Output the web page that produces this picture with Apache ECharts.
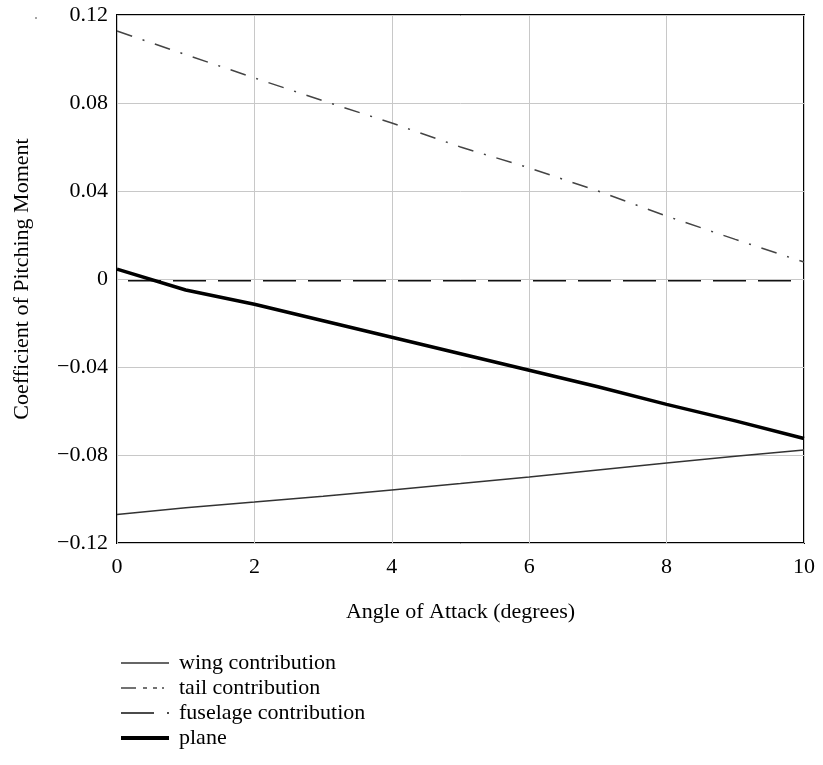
<!DOCTYPE html>
<html>
<head>
<meta charset="utf-8">
<script src="https://cdn.jsdelivr.net/npm/echarts@6/dist/echarts.min.js"></script>
<style>
  html, body { margin: 0; padding: 0; background: #fff; }
  #chart { width: 823px; height: 765px; }
</style>
</head>
<body>
<div id="chart"></div>
<script>
// angle of attack (degrees)
var alpha = [0, 1, 2, 3, 4, 5, 6, 7, 8, 9, 10]
// pitching moment contributions
var wing = [-0.107, -0.104, -0.1014, -0.0987, -0.0959, -0.093, -0.090, -0.0868, -0.0836, -0.0806, -0.0777]
var tail = [0.1127, 0.102, 0.0914, 0.081, 0.0709, 0.060, 0.0505, 0.040, 0.0286, 0.018, 0.0077]
var fuselage = [-0.0008, -0.0008, -0.0008, -0.0008, -0.0008, -0.0008, -0.0008, -0.0008, -0.0008, -0.0008, -0.0008]
var plane = [0.0045, -0.005, -0.0115, -0.019, -0.0265, -0.034, -0.0415, -0.049, -0.057, -0.0645, -0.0725]

var seriesNames = ['wing contribution', 'tail contribution', 'fuselage contribution', 'plane']

function pairs(ys) {
    return alpha.map(function (x, i) { return [x, ys[i]] })
}

var font = 'Liberation Serif, Times New Roman, serif'
var fs = 22

var chart = echarts.init(document.getElementById('chart'))
chart.setOption({
    animation: false,
    backgroundColor: '#fff',
    textStyle: { fontFamily: font, color: '#000' },
    grid: {
        left: 117, top: 15, right: 19, bottom: 222,
        show: true, borderColor: '#000', borderWidth: 2
    },
    xAxis: {
        type: 'value',
        min: 0, max: 10, interval: 2,
        name: 'Angle of Attack (degrees)',
        nameLocation: 'middle',
        nameGap: 58,
        nameTextStyle: { fontFamily: font, fontSize: fs, color: '#000' },
        axisLine: { show: false },
        axisTick: { show: false },
        axisLabel: { fontFamily: font, fontSize: fs, color: '#000', margin: 13 },
        splitLine: { lineStyle: { color: '#c8c8c8', width: 1 } }
    },
    yAxis: {
        type: 'value',
        min: -0.12, max: 0.12, interval: 0.04,
        name: 'Coefficient of Pitching Moment',
        nameLocation: 'middle',
        nameGap: 84,
        nameRotate: 90,
        nameTextStyle: { fontFamily: font, fontSize: fs, color: '#000' },
        axisLine: { show: false },
        axisTick: { show: false },
        axisLabel: {
            fontFamily: font, fontSize: fs, color: '#000', margin: 9,
            padding: [5, 0, 0, 0],
            formatter: function (v) {
                var r = Math.round(v * 100) / 100
                if (r === 0) return '0'
                var s = Math.abs(r).toFixed(2)
                return r < 0 ? '\u2212' + s : s
            }
        },
        splitLine: { lineStyle: { color: '#c8c8c8', width: 1 } }
    },
    legend: {
        orient: 'vertical',
        left: 114,
        top: 647,
        itemWidth: 48,
        itemHeight: 22,
        itemGap: 3,
        itemStyle: { opacity: 0 },
        textStyle: { fontFamily: font, fontSize: fs, color: '#000', padding: [0, 0, 0, 5] },
        data: [
            { name: seriesNames[0], lineStyle: { color: '#333', width: 1.5 } },
            { name: seriesNames[1], lineStyle: { color: '#444', width: 1.5, type: [15, 7, 4, 6, 4, 5, 2, 100], dashOffset: 0 } },
            { name: seriesNames[2], lineStyle: { color: '#111', width: 1.5, type: [33, 13, 2, 100], dashOffset: 0 } },
            { name: seriesNames[3], lineStyle: { color: '#000', width: 4 } }
        ]
    },
    graphic: [
        { type: 'circle', shape: { cx: 36, cy: 18, r: 0.8 }, style: { fill: '#333' } }
    ],
    series: [
        {
            name: seriesNames[0], type: 'line', symbol: 'none',
            data: pairs(wing),
            lineStyle: { color: '#333', width: 1.5 },
            itemStyle: { color: '#333' }
        },
        {
            name: seriesNames[1], type: 'line', symbol: 'none',
            data: pairs(tail),
            lineStyle: { color: '#444', width: 1.5, type: [16, 11, 2, 11] },
            itemStyle: { color: '#444' }
        },
        {
            name: seriesNames[2], type: 'line', symbol: 'none',
            data: pairs(fuselage),
            lineStyle: { color: '#111', width: 1.5, type: [33, 12], dashOffset: -11 },
            itemStyle: { color: '#111' }
        },
        {
            name: seriesNames[3], type: 'line', symbol: 'none',
            data: pairs(plane),
            lineStyle: { color: '#000', width: 3.5 },
            itemStyle: { color: '#000' }
        }
    ]
})
</script>
</body>
</html>
